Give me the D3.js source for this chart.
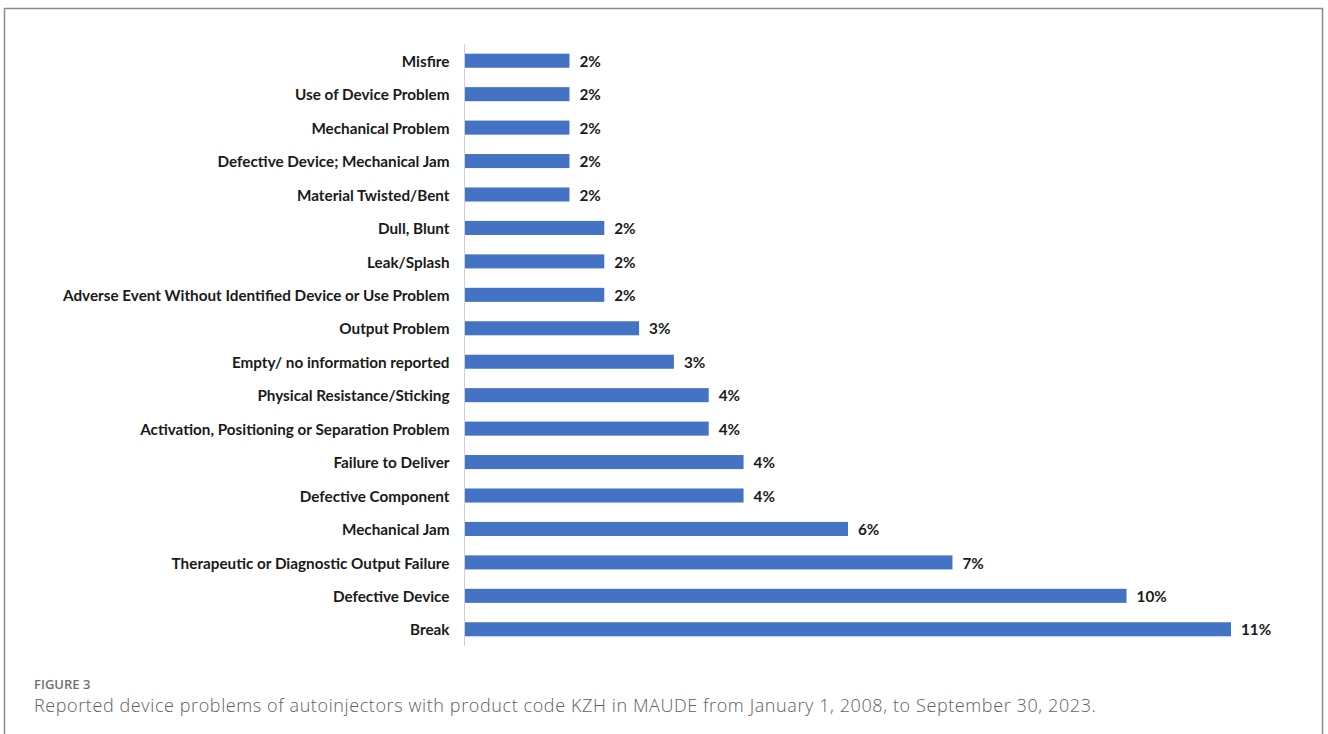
<!DOCTYPE html>
<html>
<head>
<meta charset="utf-8">
<script src="https://cdn.jsdelivr.net/npm/d3@7"></script>
<style>
  body { margin:0; background:#fff; }
  svg { display:block; }
  .cat { font-family: Lato, "Open Sans", sans-serif; font-weight:700; fill:#1a1a1a; }
  .pct { font-family: Lato, "Open Sans", sans-serif; font-weight:700; fill:#1a1a1a; }
  .fig { font-family: "Open Sans", sans-serif; font-weight:600; fill:#707070; }
  .cap { font-family: "Open Sans", sans-serif; font-weight:300; fill:#606060; }
</style>
</head>
<body>
<div id="chart"></div>
<script>
// device problems, top to bottom
var problems = [
  "Misfire",
  "Use of Device Problem",
  "Mechanical Problem",
  "Defective Device; Mechanical Jam",
  "Material Twisted/Bent",
  "Dull, Blunt",
  "Leak/Splash",
  "Adverse Event Without Identified Device or Use Problem",
  "Output Problem",
  "Empty/ no information reported",
  "Physical Resistance/Sticking",
  "Activation, Positioning or Separation Problem",
  "Failure to Deliver",
  "Defective Component",
  "Mechanical Jam",
  "Therapeutic or Diagnostic Output Failure",
  "Defective Device",
  "Break"
];
// share of reports (%)
var shares = [1.5, 1.5, 1.5, 1.5, 1.5, 2, 2, 2, 2.5, 3, 3.5, 3.5, 4, 4, 5.5, 7, 9.5, 11];
// labels printed next to the bars
var shareLabels = ["2%","2%","2%","2%","2%","2%","2%","2%","3%","3%","4%","4%","4%","4%","6%","7%","10%","11%"];

var W = 1328, H = 734;
var svg = d3.select("#chart").append("svg")
  .attr("width", W)
  .attr("height", H);

// outer frame
svg.append("rect")
  .attr("x", 4.5)
  .attr("y", 8.5)
  .attr("width", 1318)
  .attr("height", 760)
  .attr("fill", "none")
  .attr("stroke", "#8a8a8a")
  .attr("stroke-width", 1.5);

var x = d3.scaleLinear().domain([0, 11]).range([465, 1231]);
var y = d3.scaleBand().domain(problems).range([44, 646]).paddingInner(0.58).paddingOuter(0.29);

// bars
svg.selectAll("rect.bar").data(problems).enter().append("rect")
  .classed("bar", true)
  .attr("x", x(0))
  .attr("y", d => y(d))
  .attr("width", (d,i) => x(shares[i]) - x(0))
  .attr("height", y.bandwidth())
  .attr("fill", "#4472C4");

// category axis
var axis = svg.append("g")
  .attr("transform", "translate(" + (x(0) - 0.5) + ",0)")
  .call(d3.axisLeft(y).tickSize(0).tickPadding(15));
axis.select(".domain").attr("stroke", "#d0d0d0").attr("d", "M0,44V646");
axis.selectAll("text")
  .classed("cat", true)
  .attr("fill", null)
  .attr("dy", "0.4em")
  .style("font-size", "15px");

// fit longest label to the original width
var longest = d3.max(axis.selectAll("text").nodes(), n => n.getComputedTextLength());
var fs = 15 * 387 / longest;
axis.selectAll("text").style("font-size", fs + "px");

// value labels
svg.selectAll("text.pct").data(problems).enter().append("text")
  .classed("pct", true)
  .attr("x", (d,i) => x(shares[i]) + 10)
  .attr("y", d => y(d) + y.bandwidth() / 2)
  .attr("dy", "0.4em")
  .style("font-size", fs + "px")
  .text((d,i) => shareLabels[i]);

// caption
svg.append("text")
  .classed("fig", true)
  .attr("x", 34)
  .attr("y", 689)
  .style("font-size", "13px")
  .text("FIGURE 3");

var cap = svg.append("text")
  .classed("cap", true)
  .attr("x", 34)
  .attr("y", 712)
  .style("font-size", "18px")
  .text("Reported device problems of autoinjectors with product code KZH in MAUDE from January 1, 2008, to September 30, 2023.");
var cw = cap.node().getComputedTextLength();
cap.style("letter-spacing", ((1063 - cw) / 118) + "px");
</script>
</body>
</html>
